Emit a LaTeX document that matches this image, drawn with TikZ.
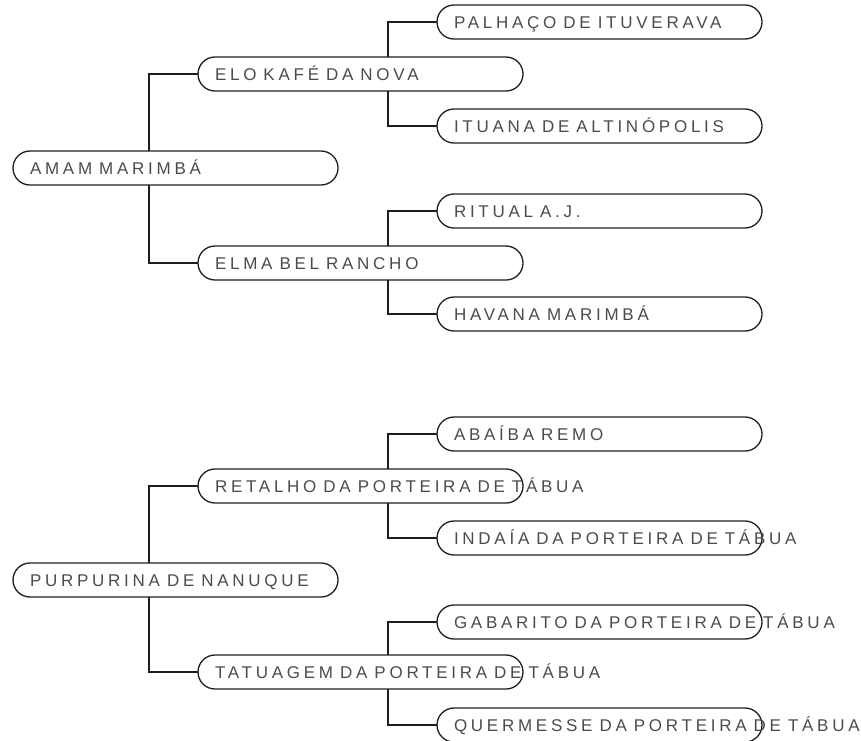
\documentclass[tikz,border=0pt]{standalone}
\usepackage{fontspec}
\usepackage{tikz}
\usetikzlibrary{positioning}
\newfontfamily\horsefont{Liberation Sans}[LetterSpace=22]
\definecolor{linecolor}{RGB}{30,30,30}
\definecolor{namecolor}{RGB}{75,75,75}
\newcommand{\horsename}[1]{\makebox[291pt][l]{#1}}

\begin{document}
\begin{tikzpicture}[
    x=1pt, y=-1pt,
    horse/.style={draw=linecolor, line width=1.3pt, rounded corners=17pt, anchor=west, outer sep=0pt,
        minimum height=34pt, inner xsep=17pt, inner ysep=0pt, text height=12pt, text depth=0pt,
        text=namecolor, font={\horsefont\fontsize{17}{17}\selectfont\spaceskip=7pt\xspaceskip=7pt}},
    link/.style={draw=linecolor, line width=1.3pt}
]
    \useasboundingbox (0,0) rectangle (861,740);

    % First pedigree
    \node[horse] (amam) at (13,168) {\horsename{AMAM MARIMBÁ}};
    \node[horse] (elo) at (198,74) {\horsename{ELO KAFÉ DA NOVA}};
    \node[horse] (elma) at (198,263) {\horsename{ELMA BEL RANCHO}};
    \node[horse] (palhaco) at (437,22) {\horsename{PALHAÇO DE ITUVERAVA}};
    \node[horse] (ituana) at (437,126) {\horsename{ITUANA DE ALTINÓPOLIS}};
    \node[horse] (ritual) at (437,211) {\horsename{RITUAL A.J.}};
    \node[horse] (havana) at (437,314) {\horsename{HAVANA MARIMBÁ}};

    % Second pedigree
    \node[horse] (purpurina) at (13,580) {\horsename{PURPURINA DE NANUQUE}};
    \node[horse] (retalho) at (198,486) {\horsename{RETALHO DA PORTEIRA DE TÁBUA}};
    \node[horse] (tatuagem) at (198,672) {\horsename{TATUAGEM DA PORTEIRA DE TÁBUA}};
    \node[horse] (abaiba) at (437,434) {\horsename{ABAÍBA REMO}};
    \node[horse] (indaia) at (437,538) {\horsename{INDAÍA DA PORTEIRA DE TÁBUA}};
    \node[horse] (gabarito) at (437,622) {\horsename{GABARITO DA PORTEIRA DE TÁBUA}};
    \node[horse] (quermesse) at (437,725) {\horsename{QUERMESSE DA PORTEIRA DE TÁBUA}};

    % Links
    \draw[link] ([xshift=136pt]amam.north west) |- (elo.west);
    \draw[link] ([xshift=136pt]amam.south west) |- (elma.west);
    \draw[link] ([xshift=190pt]elo.north west) |- (palhaco.west);
    \draw[link] ([xshift=190pt]elo.south west) |- (ituana.west);
    \draw[link] ([xshift=190pt]elma.north west) |- (ritual.west);
    \draw[link] ([xshift=190pt]elma.south west) |- (havana.west);

    \draw[link] ([xshift=136pt]purpurina.north west) |- (retalho.west);
    \draw[link] ([xshift=136pt]purpurina.south west) |- (tatuagem.west);
    \draw[link] ([xshift=190pt]retalho.north west) |- (abaiba.west);
    \draw[link] ([xshift=190pt]retalho.south west) |- (indaia.west);
    \draw[link] ([xshift=190pt]tatuagem.north west) |- (gabarito.west);
    \draw[link] ([xshift=190pt]tatuagem.south west) |- (quermesse.west);
\end{tikzpicture}
\end{document}
